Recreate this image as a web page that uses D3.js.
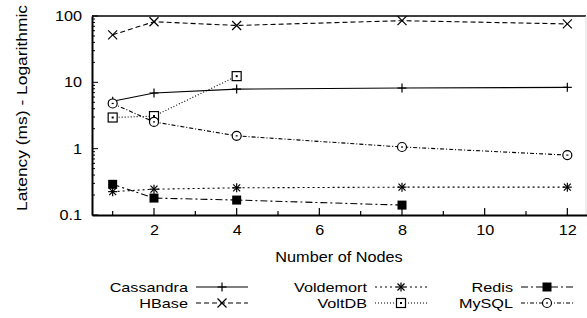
<!DOCTYPE html>
<html><head><meta charset="utf-8">
<script src="https://cdn.jsdelivr.net/npm/d3@7"></script>
<style>body{margin:0;background:#fff}svg text{font-family:"Liberation Sans",Arial,sans-serif;fill:#000}</style>
</head><body><svg id="c" width="587" height="318"></svg>
<script>
const nodes = [1, 2, 4, 8, 12];
const cassandra = [5.2, 6.9, 7.9, 8.2, 8.4];
const hbase = [52, 82, 72, 85, 76];
const voldemort = [0.225, 0.245, 0.257, 0.263, 0.263];
const voltdb = [2.95, 3.1, 12.4];
const redis = [0.29, 0.18, 0.168, 0.141];
const mysql = [4.8, 2.53, 1.56, 1.06, 0.80];
const yTickLabels = ["0.1", "1", "10", "100"];
const xTickLabels = ["2", "4", "6", "8", "10", "12"];

const series = [
  {name: "Cassandra", values: cassandra, dash: null, marker: "plus"},
  {name: "HBase", values: hbase, dash: "5,3", marker: "cross"},
  {name: "Voldemort", values: voldemort, dash: "2,3", marker: "star"},
  {name: "VoltDB", values: voltdb, dash: "1,2", marker: "square"},
  {name: "Redis", values: redis, dash: "7,3,2,3", marker: "fsquare"},
  {name: "MySQL", values: mysql, dash: "4,2,1,2", marker: "circle"}
];

const svg = d3.select("#c");
const L = 92, R = 586, T = 16, B = 215;
const x = d3.scaleLinear().domain([0.5, 12.5]).range([L, 588]);
const y = d3.scaleLog().domain([0.1, 100]).range([B, T]);

svg.append("line").attr("x1", L).attr("x2", R).attr("y1", T).attr("y2", T).attr("stroke", "#000").attr("stroke-width", 1.5);
svg.append("line").attr("x1", R).attr("x2", R).attr("y1", T).attr("y2", B).attr("stroke", "#ddd").attr("stroke-width", 1);

const yAx = d3.axisLeft(y).tickValues(yTickLabels.map(Number)).tickFormat((d,i)=>yTickLabels[i]).tickSize(0).tickPadding(10);
const gy = svg.append("g").attr("transform", `translate(${L},0)`).call(yAx);
gy.select(".domain").attr("stroke", "#000").attr("stroke-width", 2);
gy.selectAll("text").attr("class", "st").style("font-size", "14.5px");
const yMinor = [];
for (let e = -1; e < 2; e++) for (let m = 1; m <= 9; m++) yMinor.push(m * Math.pow(10, e));
yMinor.push(100);
svg.append("g").selectAll("line").data(yMinor).join("line")
  .attr("x1", L).attr("x2", d => L + (Math.abs(Math.log10(d) - Math.round(Math.log10(d))) < 1e-9 ? 6 : 3))
  .attr("y1", d => y(d)).attr("y2", d => y(d)).attr("stroke", "#000").attr("stroke-width", 1);

const xAx = d3.axisBottom(x).tickValues(xTickLabels.map(Number)).tickFormat((d,i)=>xTickLabels[i]).tickSize(0).tickPadding(10);
const gx = svg.append("g").attr("transform", `translate(0,${B})`).call(xAx);
gx.select(".domain").attr("stroke", "#000").attr("stroke-width", 2);
gx.selectAll("text").attr("class", "st").style("font-size", "14.5px");
svg.append("g").selectAll("line").data(d3.range(1, 13)).join("line")
  .attr("x1", d => x(d)).attr("x2", d => x(d))
  .attr("y1", B).attr("y2", d => B - (d % 2 === 0 ? 7 : 4)).attr("stroke", "#000").attr("stroke-width", 1.2);

svg.append("text").attr("class", "st").attr("x", 339).attr("y", 262).attr("text-anchor", "middle").style("font-size", "14.5px").text("Number of Nodes");
svg.append("text").attr("class", "st2").attr("transform", `translate(27,108) rotate(-90)`).attr("text-anchor", "middle").style("font-size", "14.5px").text("Latency (ms) - Logarithmic");

function drawMarker(g, type, cx, cy) {
  const s = 4.5;
  const st = {stroke: "#000", "stroke-width": 1.2, fill: "none"};
  const ln = (a, b, c, d) => { const l = g.append("line").attr("x1", a).attr("y1", b).attr("x2", c).attr("y2", d); for (const k in st) l.attr(k, st[k]); };
  if (type === "plus" || type === "star") { ln(cx - s, cy, cx + s, cy); ln(cx, cy - s, cx, cy + s); }
  if (type === "cross" || type === "star") { const t = type === "star" ? 3.5 : s; ln(cx - t, cy - t, cx + t, cy + t); ln(cx - t, cy + t, cx + t, cy - t); }
  if (type === "square") {
    g.append("rect").attr("x", cx - s).attr("y", cy - s).attr("width", 2 * s).attr("height", 2 * s).attr("fill", "#fff").attr("stroke", "#000").attr("stroke-width", 1.2);
    g.append("rect").attr("x", cx - 1).attr("y", cy - 1).attr("width", 2).attr("height", 2).attr("fill", "#000");
  }
  if (type === "fsquare") g.append("rect").attr("x", cx - s).attr("y", cy - s).attr("width", 2 * s).attr("height", 2 * s).attr("fill", "#000");
  if (type === "circle") {
    g.append("circle").attr("cx", cx).attr("cy", cy).attr("r", s).attr("fill", "#fff").attr("stroke", "#000").attr("stroke-width", 1.2);
    g.append("rect").attr("x", cx - 1).attr("y", cy - 0.6).attr("width", 2).attr("height", 1.2).attr("fill", "#000");
  }
}

const line = d3.line().x((d, i) => x(nodes[i])).y(d => y(d));
series.forEach(s => {
  const g = svg.append("g");
  g.append("path").attr("d", line(s.values)).attr("fill", "none").attr("stroke", "#000").attr("stroke-width", 1.1)
    .attr("stroke-dasharray", s.dash);
  s.values.forEach((v, i) => drawMarker(g, s.marker, x(nodes[i]), y(v)));
});

const cols = [188, 367, 513];
const rows = [287, 303];
series.forEach((s, i) => {
  const cx = cols[Math.floor(i / 2)], cy = rows[i % 2];
  const g = svg.append("g");
  g.append("text").attr("class", "st2").attr("x", cx).attr("y", cy).attr("dy", "0.35em").attr("text-anchor", "end").style("font-size", "13.5px").text(s.name);
  const x0 = cx + 8, x1 = cx + 60;
  g.append("line").attr("x1", x0).attr("x2", x1).attr("y1", cy).attr("y2", cy).attr("stroke", "#000").attr("stroke-width", 1.1).attr("stroke-dasharray", s.dash);
  drawMarker(g, s.marker, (x0 + x1) / 2, cy);
});

// widen glyphs to match the reference's wider typeface
svg.selectAll("text.st").each(function () { const l = this.getComputedTextLength(); d3.select(this).attr("textLength", l * 1.12).attr("lengthAdjust", "spacingAndGlyphs"); });
svg.selectAll("text.st2").each(function () { const l = this.getComputedTextLength(); d3.select(this).attr("textLength", l * 1.2).attr("lengthAdjust", "spacingAndGlyphs"); });
</script></body></html>
